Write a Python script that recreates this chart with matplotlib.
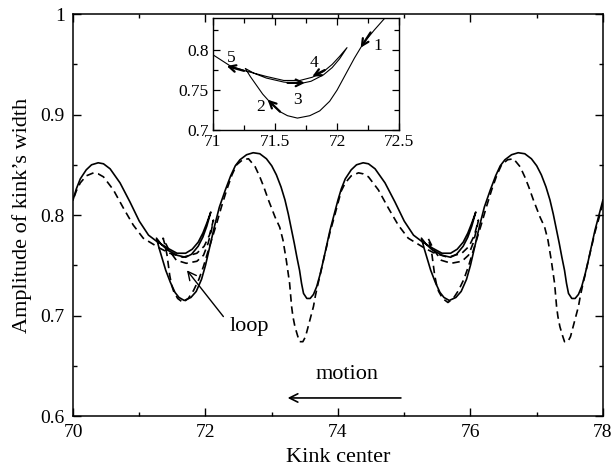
import matplotlib.pyplot as plt
import numpy as np
from matplotlib.ticker import MultipleLocator, FuncFormatter

plt.rcParams['font.family'] = ['Liberation Serif', 'DejaVu Serif']

# solid curve, in time order (the kink moves left)
solid_pts = [
    (78.00, 0.815), (77.94, 0.800), (77.88, 0.785), (77.83, 0.770), (77.78, 0.755),
    (77.73, 0.741), (77.68, 0.729), (77.63, 0.721), (77.58, 0.717), (77.53, 0.717),
    (77.48, 0.722), (77.45, 0.732), (77.42, 0.745), (77.38, 0.758), (77.34, 0.772),
    (77.30, 0.785), (77.25, 0.801), (77.20, 0.815), (77.14, 0.828), (77.07, 0.840),
    (77.00, 0.849), (76.92, 0.856), (76.82, 0.861), (76.72, 0.862), (76.62, 0.860),
    (76.52, 0.855), (76.45, 0.849), (76.38, 0.839), (76.30, 0.825), (76.21, 0.808),
    (76.14, 0.790), (76.07, 0.770), (76.00, 0.750), (75.94, 0.736), (75.86, 0.724),
    (75.78, 0.718), (75.68, 0.715), (75.60, 0.718), (75.54, 0.723), (75.47, 0.733),
    (75.40, 0.745), (75.35, 0.756), (75.30, 0.767), (75.26, 0.777), (75.33, 0.771),
    (75.43, 0.765), (75.57, 0.760), (75.70, 0.758), (75.79, 0.761), (75.89, 0.769),
    (75.96, 0.778), (76.02, 0.789), (76.08, 0.803), (76.02, 0.792), (75.96, 0.782),
    (75.89, 0.773), (75.80, 0.766), (75.70, 0.762), (75.57, 0.762), (75.43, 0.767),
    (75.26, 0.774), (75.14, 0.780), (75.00, 0.794), (74.86, 0.813), (74.71, 0.832),
    (74.56, 0.846), (74.46, 0.851), (74.38, 0.852), (74.28, 0.850), (74.20, 0.845),
    (74.11, 0.836), (74.05, 0.826),
    (74.00, 0.815), (73.94, 0.800), (73.88, 0.785), (73.83, 0.770), (73.78, 0.755),
    (73.73, 0.741), (73.68, 0.729), (73.63, 0.721), (73.58, 0.717), (73.53, 0.717),
    (73.48, 0.722), (73.45, 0.732), (73.42, 0.745), (73.38, 0.758), (73.34, 0.772),
    (73.30, 0.785), (73.25, 0.801), (73.20, 0.815), (73.14, 0.828), (73.07, 0.840),
    (73.00, 0.849), (72.92, 0.856), (72.82, 0.861), (72.72, 0.862), (72.62, 0.860),
    (72.52, 0.855), (72.45, 0.849), (72.38, 0.839), (72.30, 0.825), (72.21, 0.808),
    (72.14, 0.790), (72.07, 0.770), (72.00, 0.750), (71.94, 0.736), (71.86, 0.724),
    (71.78, 0.718), (71.68, 0.715), (71.60, 0.718), (71.54, 0.723), (71.47, 0.733),
    (71.40, 0.745), (71.35, 0.756), (71.30, 0.767), (71.26, 0.777), (71.33, 0.771),
    (71.43, 0.765), (71.57, 0.760), (71.70, 0.758), (71.79, 0.761), (71.89, 0.769),
    (71.96, 0.778), (72.02, 0.789), (72.08, 0.803), (72.02, 0.792), (71.96, 0.782),
    (71.89, 0.773), (71.80, 0.766), (71.70, 0.762), (71.57, 0.762), (71.43, 0.767),
    (71.26, 0.774), (71.14, 0.780), (71.00, 0.794), (70.86, 0.813), (70.71, 0.832),
    (70.56, 0.846), (70.46, 0.851), (70.38, 0.852), (70.28, 0.850), (70.20, 0.845),
    (70.11, 0.836), (70.05, 0.826), (70.00, 0.815),
]

# dashed curve, same reading
dashed_pts = [
    (78.00, 0.812), (77.94, 0.797), (77.88, 0.783), (77.83, 0.769), (77.78, 0.755),
    (77.74, 0.743), (77.70, 0.732), (77.66, 0.720), (77.63, 0.709), (77.59, 0.699),
    (77.55, 0.689), (77.51, 0.679), (77.47, 0.674), (77.42, 0.674), (77.39, 0.680),
    (77.35, 0.689), (77.32, 0.699), (77.30, 0.709), (77.27, 0.732), (77.22, 0.755),
    (77.17, 0.775), (77.12, 0.788), (77.05, 0.798), (76.95, 0.815), (76.88, 0.828),
    (76.82, 0.838), (76.75, 0.848), (76.65, 0.856), (76.56, 0.855), (76.47, 0.850),
    (76.40, 0.840), (76.32, 0.825), (76.24, 0.808), (76.17, 0.792), (76.09, 0.775),
    (76.03, 0.762), (75.97, 0.749), (75.90, 0.736), (75.82, 0.725), (75.74, 0.717),
    (75.66, 0.713), (75.58, 0.717), (75.52, 0.724), (75.49, 0.730), (75.46, 0.740),
    (75.44, 0.750), (75.42, 0.760), (75.39, 0.770), (75.36, 0.777), (75.45, 0.765),
    (75.56, 0.755), (75.71, 0.752), (75.87, 0.754), (75.97, 0.760), (76.04, 0.772),
    (76.09, 0.785), (76.12, 0.795), (76.06, 0.780), (75.98, 0.769), (75.87, 0.762),
    (75.66, 0.758), (75.46, 0.762), (75.31, 0.767), (75.21, 0.771), (75.06, 0.777),
    (74.91, 0.790), (74.76, 0.807), (74.61, 0.825), (74.46, 0.838), (74.38, 0.841),
    (74.31, 0.842), (74.20, 0.839), (74.11, 0.832), (74.05, 0.824),
    (74.00, 0.812), (73.94, 0.797), (73.88, 0.783), (73.83, 0.769), (73.78, 0.755),
    (73.74, 0.743), (73.70, 0.732), (73.66, 0.720), (73.63, 0.709), (73.59, 0.699),
    (73.55, 0.689), (73.51, 0.679), (73.47, 0.674), (73.42, 0.674), (73.39, 0.680),
    (73.35, 0.689), (73.32, 0.699), (73.30, 0.709), (73.27, 0.732), (73.22, 0.755),
    (73.17, 0.775), (73.12, 0.788), (73.05, 0.798), (72.95, 0.815), (72.88, 0.828),
    (72.82, 0.838), (72.75, 0.848), (72.65, 0.856), (72.56, 0.855), (72.47, 0.850),
    (72.40, 0.840), (72.32, 0.825), (72.24, 0.808), (72.17, 0.792), (72.09, 0.775),
    (72.03, 0.762), (71.97, 0.749), (71.90, 0.736), (71.82, 0.725), (71.74, 0.717),
    (71.66, 0.713), (71.58, 0.717), (71.52, 0.724), (71.49, 0.730), (71.46, 0.740),
    (71.44, 0.750), (71.42, 0.760), (71.39, 0.770), (71.36, 0.777), (71.45, 0.765),
    (71.56, 0.755), (71.71, 0.752), (71.87, 0.754), (71.97, 0.760), (72.04, 0.772),
    (72.09, 0.785), (72.12, 0.795), (72.06, 0.780), (71.98, 0.769), (71.87, 0.762),
    (71.66, 0.758), (71.46, 0.762), (71.31, 0.767), (71.21, 0.771), (71.06, 0.777),
    (70.91, 0.790), (70.76, 0.807), (70.61, 0.825), (70.46, 0.838), (70.38, 0.841),
    (70.31, 0.842), (70.20, 0.839), (70.11, 0.832), (70.05, 0.824), (70.00, 0.815),
]

x_ticks = [70, 72, 74, 76, 78]
y_ticks = [0.6, 0.7, 0.8, 0.9, 1.0]
inset_x_ticks = [71, 71.5, 72, 72.5]
inset_y_ticks = [0.7, 0.75, 0.8]

# inset arrows along the trajectory: tail, head, label, label position
inset_arrows = [
    ((72.27, 0.822), (72.19, 0.803), '1', (72.33, 0.805)),
    ((71.54, 0.723), (71.44, 0.738), '2', (71.38, 0.729)),
    ((71.60, 0.759), (71.74, 0.759), '3', (71.68, 0.737)),
    ((71.90, 0.775), (71.80, 0.767), '4', (71.81, 0.784)),
    ((71.25, 0.774), (71.11, 0.780), '5', (71.15, 0.790)),
]

fmt = FuncFormatter(lambda v, p: '%g' % round(v, 3))

fig = plt.figure(figsize=(6.14, 4.68), dpi=100)
ax = fig.add_axes([0.1189, 0.111, 0.8631, 0.859])

solid = np.array(solid_pts)
dashed = np.array(dashed_pts)
ax.plot(solid[:, 0], solid[:, 1], color='black', lw=1.2)
ax.plot(dashed[:, 0], dashed[:, 1], color='black', lw=1.2,
        linestyle=(0, (4.5, 2.8)))

ax.set_xlim(70, 78)
ax.set_ylim(0.6, 1.0)
ax.set_xticks(x_ticks)
ax.set_yticks(y_ticks)
ax.xaxis.set_minor_locator(MultipleLocator(1))
ax.yaxis.set_minor_locator(MultipleLocator(0.05))
ax.xaxis.set_major_formatter(fmt)
ax.yaxis.set_major_formatter(fmt)
ax.tick_params(which='both', direction='in', top=True, right=True,
               labelsize=14, width=1.0)
ax.tick_params(which='major', length=6, pad=6)
ax.tick_params(which='minor', length=3)
for sp in ax.spines.values():
    sp.set_linewidth(1.1)
ax.set_xlabel('Kink center', fontsize=16, labelpad=5)
ax.set_ylabel('Amplitude of kink\u2019s width', fontsize=16, labelpad=6)

# loop label and arrow
ax.text(72.66, 0.689, 'loop', fontsize=16, ha='center', va='center')
ax.annotate('', xy=(71.72, 0.745), xytext=(72.27, 0.699),
            arrowprops=dict(arrowstyle='->', lw=1.0, mutation_scale=15,
                            shrinkA=0, shrinkB=0))

# motion label and arrow
ax.text(74.14, 0.641, 'motion', fontsize=16, ha='center', va='center')
ax.annotate('', xy=(73.24, 0.618), xytext=(74.95, 0.618),
            arrowprops=dict(arrowstyle='->', lw=1.2, mutation_scale=15,
                            shrinkA=0, shrinkB=0))

# inset with the loop of the solid curve
ins = fig.add_axes([0.347, 0.722, 0.303, 0.2395])
ins.plot(solid[:, 0], solid[:, 1], color='black', lw=0.8)
ins.set_xlim(71, 72.5)
ins.set_ylim(0.7, 0.84)
ins.set_xticks(inset_x_ticks)
ins.set_yticks(inset_y_ticks)
ins.xaxis.set_minor_locator(MultipleLocator(0.25))
ins.yaxis.set_minor_locator(MultipleLocator(0.025))
ins.xaxis.set_major_formatter(fmt)
ins.yaxis.set_major_formatter(fmt)
ins.tick_params(which='both', direction='in', top=True, right=True,
                labelsize=12.5, width=0.9, pad=3)
ins.tick_params(which='major', length=5)
ins.tick_params(which='minor', length=3.5)
for sp in ins.spines.values():
    sp.set_linewidth(1.0)

for tail, head, lab, pos in inset_arrows:
    ins.annotate('', xy=head, xytext=tail,
                 arrowprops=dict(arrowstyle='->', lw=1.6, mutation_scale=12,
                                 shrinkA=0, shrinkB=0))
    ins.text(pos[0], pos[1], lab, fontsize=12.5, ha='center', va='center')

fig.savefig('out.png', dpi=100)
